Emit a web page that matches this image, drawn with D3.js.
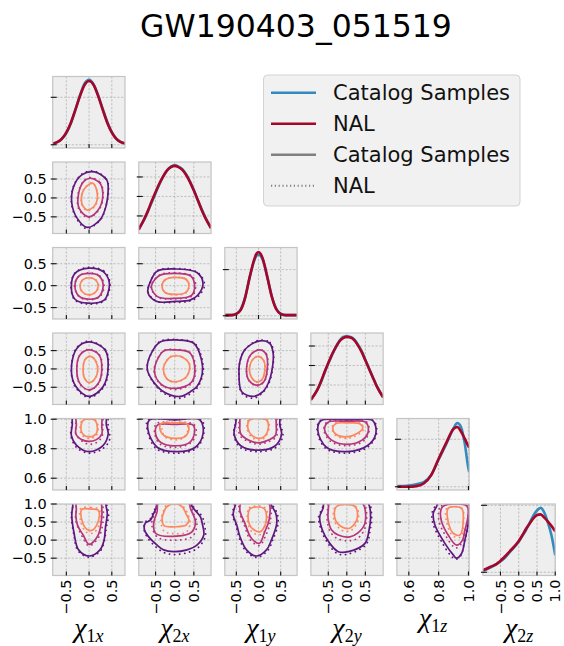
<!DOCTYPE html>
<html><head><meta charset="utf-8">
<script src="https://cdn.jsdelivr.net/npm/d3@7"></script>
<style>body{margin:0;background:#fff}</style>
</head><body>
<script>
// ---------------- DATA ----------------
const titleText = "GW190403_051519";
const paramSubs = ["1x","2x","1y","2y","1z","2z"];
const domains = [[-0.80,0.79],[-0.94,0.95],[-0.76,0.87],[-0.97,0.98],[0.52,1.005],[-0.98,1.0]];
const tickVals = [[-0.5,0,0.5],[-0.5,0,0.5],[-0.5,0,0.5],[-0.5,0,0.5],[0.6,0.8,1.0],[-0.5,0,0.5,1.0]];
const legendLabels = ["Catalog Samples","NAL","Catalog Samples","NAL"];

// 1D marginal densities (relative units)
const grid1x = [-0.8,-0.7,-0.6,-0.5,-0.4,-0.3,-0.2,-0.1,0,0.1,0.2,0.3,0.4,0.5,0.6,0.7,0.8];
const cat1x  = [0.02,0.04,0.09,0.18,0.33,0.54,0.76,0.94,1.0,0.93,0.76,0.55,0.35,0.19,0.09,0.04,0.02];
const nal1x  = [0.02,0.04,0.09,0.19,0.34,0.54,0.75,0.92,0.98,0.92,0.75,0.54,0.34,0.19,0.09,0.04,0.02];
const grid2x = [-0.94,-0.8,-0.7,-0.6,-0.5,-0.4,-0.3,-0.2,-0.1,0,0.1,0.2,0.3,0.4,0.5,0.6,0.7,0.8,0.95];
const cat2x  = [0.03,0.16,0.29,0.43,0.57,0.71,0.83,0.92,0.98,1.0,0.98,0.94,0.86,0.75,0.62,0.47,0.33,0.2,0.04];
const nal2x  = [0.01,0.17,0.30,0.45,0.59,0.72,0.83,0.92,0.97,0.99,0.97,0.93,0.85,0.74,0.61,0.47,0.32,0.19,0.03];
const grid1y = [-0.76,-0.6,-0.5,-0.4,-0.3,-0.2,-0.1,-0.05,0,0.05,0.1,0.2,0.3,0.4,0.5,0.6,0.87];
const cat1y  = [0.01,0.01,0.03,0.1,0.29,0.59,0.84,0.92,0.94,0.92,0.85,0.59,0.3,0.11,0.03,0.01,0.01];
const nal1y  = [0.01,0.01,0.03,0.09,0.28,0.59,0.86,0.95,0.98,0.95,0.87,0.59,0.29,0.1,0.03,0.01,0.01];
const grid2y = [-0.97,-0.8,-0.7,-0.6,-0.5,-0.4,-0.3,-0.2,-0.1,0,0.1,0.2,0.3,0.4,0.5,0.6,0.7,0.8,0.98];
const cat2y  = [0.03,0.17,0.29,0.44,0.58,0.71,0.83,0.93,0.99,1.0,0.99,0.95,0.87,0.77,0.64,0.5,0.37,0.24,0.06];
const nal2y  = [0.02,0.17,0.30,0.45,0.59,0.72,0.83,0.92,0.97,0.99,0.98,0.94,0.86,0.76,0.63,0.5,0.37,0.24,0.06];
const grid1z = [0.52,0.55,0.6,0.65,0.7,0.75,0.8,0.85,0.9,0.925,0.95,0.975,1.0,1.005];
const cat1z  = [0.01,0.01,0.02,0.04,0.07,0.18,0.42,0.65,0.9,0.98,0.92,0.67,0.28,0.23];
const nal1z  = [0.0,0.0,0.0,0.01,0.05,0.18,0.43,0.67,0.89,0.92,0.85,0.74,0.62,0.6];
const grid2z = [-0.98,-0.9,-0.75,-0.6,-0.4,-0.2,-0.1,0,0.1,0.2,0.3,0.4,0.5,0.6,0.7,0.8,0.9,1.0];
const cat2z  = [0.03,0.04,0.08,0.13,0.21,0.34,0.40,0.47,0.56,0.65,0.76,0.87,0.95,0.99,0.92,0.76,0.56,0.26];
const nal2z  = [0.03,0.05,0.09,0.13,0.23,0.35,0.41,0.48,0.57,0.67,0.75,0.83,0.88,0.89,0.84,0.78,0.71,0.63];
const diagTicks1x = [0,0.73], diagTicks2x = [0.22,0.52,0.82], diagTicks1y = [0,0.71];
const diagTicks2y = [0.25,0.55,0.85], diagTicks1z = [0,0.73], diagTicks2z = [0,1.03];

// 2D credible contours [x,y] in data units: [outer, middle, inner]
const cat_2x_1x = [
 [[0.12,0.69],[0.39,0.47],[0.42,0.21],[0.37,-0.23],[0.24,-0.58],[-0.04,-0.78],[-0.26,-0.54],[-0.38,-0.14],[-0.34,0.30],[-0.16,0.61]],
 [[0.02,0.52],[0.24,0.39],[0.30,0.03],[0.20,-0.32],[-0.01,-0.50],[-0.22,-0.27],[-0.23,0.12],[-0.12,0.43]],
 [[0.08,0.39],[0.18,0.12],[0.13,-0.19],[-0.04,-0.32],[-0.16,-0.14],[-0.12,0.21]]];
const nal_2x_1x = [
 [[0.10,0.71],[0.38,0.50],[0.43,0.22],[0.37,-0.22],[0.25,-0.58],[-0.06,-0.81],[-0.27,-0.56],[-0.39,-0.12],[-0.34,0.32],[-0.16,0.63]],
 [[0.02,0.54],[0.25,0.40],[0.31,0.03],[0.21,-0.33],[-0.02,-0.52],[-0.23,-0.28],[-0.24,0.12],[-0.12,0.45]],
 [[0.07,0.40],[0.19,0.12],[0.14,-0.20],[-0.04,-0.34],[-0.17,-0.14],[-0.12,0.22]]];
const cat_1y_1x = [
 [[0.0,0.40],[0.31,0.32],[0.44,0.10],[0.42,-0.15],[0.33,-0.33],[-0.02,-0.40],[-0.31,-0.31],[-0.39,-0.02],[-0.31,0.28]],
 [[0,0.28],[0.22,0.22],[0.31,0],[0.22,-0.25],[0,-0.31],[-0.22,-0.24],[-0.31,0],[-0.22,0.22]],
 [[0,0.18],[0.14,0.13],[0.20,0],[0.14,-0.15],[0,-0.21],[-0.14,-0.15],[-0.20,0],[-0.14,0.13]]];
const nal_1y_1x = [
 [[0.0,0.42],[0.33,0.33],[0.46,0.08],[0.43,-0.16],[0.33,-0.35],[-0.02,-0.42],[-0.31,-0.33],[-0.40,-0.02],[-0.31,0.29]],
 [[0,0.29],[0.24,0.22],[0.33,0],[0.24,-0.25],[0,-0.32],[-0.22,-0.25],[-0.32,0],[-0.22,0.22]],
 [[0,0.18],[0.15,0.13],[0.21,0],[0.14,-0.15],[0,-0.22],[-0.14,-0.15],[-0.20,0],[-0.14,0.13]]];
const cat_1y_2x = [
 [[-0.46,0.33],[0.0,0.38],[0.58,0.30],[0.74,0.05],[0.60,-0.22],[0.40,-0.33],[0.0,-0.36],[-0.46,-0.36],[-0.70,-0.16],[-0.62,0.12]],
 [[-0.40,0.23],[0.0,0.28],[0.42,0.22],[0.52,0.0],[0.44,-0.22],[0.0,-0.29],[-0.45,-0.25],[-0.61,-0.02]],
 [[0,0.19],[0.30,0.14],[0.37,0],[0.28,-0.16],[0,-0.20],[-0.26,-0.15],[-0.33,0],[-0.24,0.14]]];
const nal_1y_2x = [
 [[-0.46,0.34],[0.0,0.39],[0.60,0.30],[0.78,0.02],[0.62,-0.24],[0.40,-0.35],[0.0,-0.38],[-0.46,-0.36],[-0.70,-0.14],[-0.62,0.13]],
 [[-0.40,0.24],[0.0,0.29],[0.45,0.22],[0.55,0.0],[0.46,-0.23],[0.0,-0.30],[-0.45,-0.26],[-0.62,-0.02]],
 [[0,0.19],[0.30,0.15],[0.38,0],[0.29,-0.17],[0,-0.21],[-0.26,-0.15],[-0.34,0],[-0.24,0.14]]];
const cat_2y_1x = [
 [[0.0,0.74],[0.35,0.52],[0.42,0.11],[0.31,-0.48],[0.0,-0.75],[-0.29,-0.48],[-0.39,-0.03],[-0.27,0.56]],
 [[0,0.52],[0.22,0.38],[0.28,0],[0.2,-0.40],[0,-0.57],[-0.2,-0.40],[-0.27,0],[-0.2,0.38]],
 [[0.03,0.34],[0.15,0.2],[0.19,-0.05],[0.12,-0.28],[0,-0.37],[-0.1,-0.25],[-0.13,0],[-0.09,0.25]]];
const nal_2y_1x = [
 [[0.0,0.76],[0.36,0.52],[0.43,0.11],[0.33,-0.48],[0.0,-0.78],[-0.30,-0.50],[-0.39,-0.03],[-0.28,0.57]],
 [[0,0.54],[0.23,0.38],[0.29,0],[0.21,-0.40],[0,-0.58],[-0.21,-0.40],[-0.27,0],[-0.2,0.39]],
 [[0.03,0.35],[0.16,0.2],[0.19,-0.05],[0.12,-0.29],[0,-0.38],[-0.1,-0.25],[-0.13,0],[-0.09,0.25]]];
const cat_2y_2x = [
 [[-0.37,0.74],[0.06,0.79],[0.50,0.70],[0.70,0.25],[0.72,-0.12],[0.58,-0.48],[0.41,-0.62],[0.15,-0.75],[-0.29,-0.62],[-0.59,-0.30],[-0.72,0.02],[-0.59,0.47]],
 [[-0.3,0.48],[0,0.52],[0.38,0.45],[0.52,0.1],[0.45,-0.35],[0.05,-0.53],[-0.35,-0.42],[-0.53,-0.05]],
 [[-0.1,0.33],[0.2,0.32],[0.39,0.1],[0.3,-0.22],[0,-0.35],[-0.22,-0.25],[-0.29,0.05]]];
const nal_2y_2x = [
 [[-0.37,0.76],[0.06,0.80],[0.52,0.70],[0.72,0.25],[0.74,-0.12],[0.60,-0.50],[0.41,-0.68],[0.12,-0.80],[-0.29,-0.66],[-0.59,-0.32],[-0.72,0.02],[-0.59,0.47]],
 [[-0.3,0.49],[0,0.53],[0.40,0.45],[0.54,0.1],[0.46,-0.37],[0.05,-0.56],[-0.36,-0.43],[-0.54,-0.05]],
 [[-0.1,0.34],[0.2,0.33],[0.40,0.1],[0.3,-0.23],[0,-0.36],[-0.22,-0.25],[-0.29,0.05]]];
const cat_2y_1y = [
 [[0.0,0.76],[0.25,0.70],[0.33,0.43],[0.29,-0.12],[0.22,-0.39],[0.10,-0.62],[-0.12,-0.75],[-0.38,-0.62],[-0.44,-0.12],[-0.42,0.2],[-0.31,0.52]],
 [[0.03,0.52],[0.17,0.40],[0.2,0.05],[0.12,-0.35],[-0.05,-0.44],[-0.22,-0.30],[-0.27,0],[-0.18,0.38]],
 [[0,0.34],[0.12,0.22],[0.14,-0.05],[0.07,-0.3],[-0.05,-0.35],[-0.17,-0.2],[-0.2,0.05],[-0.12,0.27]]];
const nal_2y_1y = [
 [[0.0,0.78],[0.26,0.72],[0.34,0.43],[0.30,-0.12],[0.23,-0.40],[0.10,-0.64],[-0.12,-0.80],[-0.38,-0.66],[-0.44,-0.12],[-0.42,0.2],[-0.31,0.52]],
 [[0.03,0.53],[0.18,0.40],[0.21,0.05],[0.12,-0.36],[-0.05,-0.46],[-0.22,-0.31],[-0.27,0],[-0.18,0.38]],
 [[0,0.35],[0.12,0.22],[0.15,-0.05],[0.07,-0.31],[-0.05,-0.36],[-0.17,-0.2],[-0.2,0.05],[-0.12,0.27]]];
const cat_1z_1x = [
 [[-0.34,1.03],[0.35,1.03],[0.38,0.96],[0.42,0.90],[0.30,0.82],[0.0,0.78],[-0.28,0.825],[-0.39,0.89],[-0.37,0.96]],
 [[-0.27,1.03],[0.25,1.03],[0.28,0.95],[0.28,0.90],[0.15,0.86],[0.0,0.85],[-0.15,0.86],[-0.29,0.90],[-0.28,0.96]],
 [[-0.12,0.995],[0.12,0.995],[0.18,0.95],[0.15,0.90],[0.0,0.88],[-0.14,0.90],[-0.18,0.94]]];
const nal_1z_1x = [
 [[-0.36,1.03],[0.38,1.03],[0.42,0.95],[0.45,0.86],[0.30,0.80],[0.0,0.77],[-0.28,0.81],[-0.40,0.89],[-0.38,0.96]],
 [[-0.28,1.03],[0.27,1.03],[0.30,0.95],[0.28,0.88],[0.15,0.84],[0.0,0.83],[-0.15,0.85],[-0.29,0.90],[-0.29,0.96]],
 [[-0.14,0.995],[0.14,0.995],[0.20,0.95],[0.16,0.89],[0.0,0.87],[-0.15,0.89],[-0.20,0.94]]];
const cat_1z_2x = [
 [[-0.66,0.995],[0.0,0.996],[0.66,0.995],[0.74,0.90],[0.54,0.81],[0.06,0.78],[-0.46,0.81],[-0.70,0.93]],
 [[-0.45,0.96],[0.0,0.965],[0.48,0.96],[0.52,0.915],[0.40,0.845],[0.05,0.82],[-0.35,0.84],[-0.50,0.90]],
 [[-0.36,0.97],[0.0,0.975],[0.32,0.97],[0.37,0.93],[0.25,0.88],[0.0,0.87],[-0.28,0.89],[-0.39,0.94]]];
const nal_1z_2x = [
 [[-0.70,0.995],[0.0,0.996],[0.70,0.995],[0.76,0.90],[0.55,0.80],[0.06,0.77],[-0.48,0.80],[-0.72,0.93]],
 [[-0.48,0.97],[0,0.975],[0.50,0.965],[0.56,0.90],[0.42,0.84],[0.05,0.81],[-0.38,0.83],[-0.52,0.90]],
 [[-0.30,0.975],[0,0.98],[0.30,0.975],[0.34,0.92],[0.20,0.87],[0,0.86],[-0.25,0.88],[-0.33,0.93]]];
const cat_1z_1y = [
 [[-0.45,1.03],[0.45,1.03],[0.48,0.96],[0.52,0.90],[0.38,0.82],[0.0,0.79],[-0.40,0.82],[-0.55,0.90],[-0.52,0.96]],
 [[-0.38,1.03],[0.35,1.03],[0.40,0.95],[0.38,0.89],[0.15,0.85],[0.0,0.84],[-0.2,0.855],[-0.40,0.9],[-0.42,0.96]],
 [[-0.2,0.995],[0.18,0.995],[0.22,0.94],[0.12,0.88],[0.0,0.87],[-0.15,0.89],[-0.24,0.94]]];
const nal_1z_1y = [
 [[-0.47,1.03],[0.47,1.03],[0.50,0.96],[0.55,0.89],[0.40,0.81],[0.0,0.78],[-0.42,0.81],[-0.56,0.90],[-0.53,0.96]],
 [[-0.40,1.03],[0.37,1.03],[0.42,0.95],[0.40,0.88],[0.15,0.84],[0,0.83],[-0.2,0.845],[-0.42,0.89],[-0.44,0.96]],
 [[-0.22,0.995],[0.2,0.995],[0.24,0.94],[0.12,0.87],[0,0.86],[-0.16,0.88],[-0.26,0.94]]];
const cat_1z_2y = [
 [[-0.70,0.99],[0.0,0.995],[0.70,0.99],[0.78,0.90],[0.55,0.82],[0.0,0.78],[-0.55,0.81],[-0.78,0.92]],
 [[-0.50,0.98],[0.0,0.985],[0.50,0.98],[0.58,0.92],[0.42,0.86],[0.0,0.83],[-0.42,0.86],[-0.60,0.93]],
 [[-0.30,0.97],[0.05,0.975],[0.35,0.97],[0.43,0.94],[0.25,0.90],[0.0,0.88],[-0.3,0.9],[-0.38,0.94]]];
const nal_1z_2y = [
 [[-0.72,0.99],[0,0.995],[0.72,0.99],[0.80,0.90],[0.56,0.81],[0.0,0.77],[-0.56,0.80],[-0.80,0.92]],
 [[-0.52,0.985],[0,0.99],[0.52,0.985],[0.60,0.92],[0.44,0.85],[0,0.82],[-0.44,0.85],[-0.62,0.93]],
 [[-0.32,0.975],[0.05,0.98],[0.37,0.975],[0.45,0.93],[0.26,0.89],[0,0.87],[-0.3,0.89],[-0.40,0.94]]];
const cat_2z_1x = [
 [[-0.36,0.92],[-0.34,1.05],[0.34,1.05],[0.38,0.9],[0.40,0.74],[0.36,0.35],[0.33,0.0],[0.24,-0.27],[0.0,-0.44],[-0.23,-0.27],[-0.33,0.19],[-0.38,0.70]],
 [[-0.28,0.85],[-0.27,1.05],[0.25,1.05],[0.28,0.85],[0.28,0.65],[0.20,0.14],[0.0,-0.12],[-0.13,0.14],[-0.25,0.4],[-0.29,0.65]],
 [[-0.16,0.85],[0.05,0.86],[0.2,0.83],[0.21,0.56],[0.08,0.28],[-0.05,0.30],[-0.16,0.56]]];
const nal_2z_1x = [
 [[-0.36,0.92],[-0.34,1.05],[0.36,1.05],[0.40,0.9],[0.43,0.70],[0.38,0.35],[0.34,0.0],[0.25,-0.30],[0.0,-0.47],[-0.24,-0.30],[-0.34,0.19],[-0.39,0.70]],
 [[-0.28,0.85],[-0.27,1.05],[0.27,1.05],[0.31,0.85],[0.31,0.55],[0.22,0.10],[0.0,-0.16],[-0.15,0.10],[-0.26,0.4],[-0.30,0.65]],
 [[-0.18,0.88],[0.05,0.90],[0.22,0.85],[0.24,0.50],[0.10,0.20],[-0.06,0.22],[-0.18,0.50]]];
const cat_2z_2x = [
 [[-0.46,0.94],[-0.44,1.05],[0.44,1.05],[0.45,0.94],[0.67,0.65],[0.72,0.46],[0.76,0.14],[0.58,-0.14],[0.32,-0.27],[-0.03,-0.32],[-0.29,-0.27],[-0.46,-0.14],[-0.68,0.09],[-0.79,0.28],[-0.77,0.47],[-0.63,0.56],[-0.55,0.74]],
 [[-0.46,0.79],[-0.42,1.05],[0.35,1.05],[0.42,0.85],[0.54,0.51],[0.45,0.23],[0.05,0.11],[-0.50,0.19],[-0.55,0.47]],
 [[-0.20,0.93],[0.0,1.0],[0.19,0.93],[0.30,0.72],[0.37,0.56],[0.30,0.42],[0.0,0.37],[-0.28,0.40],[-0.33,0.60],[-0.28,0.78]]];
const nal_2z_2x = [
 [[-0.48,0.94],[-0.46,1.05],[0.46,1.05],[0.48,0.94],[0.72,0.65],[0.78,0.40],[0.80,0.10],[0.60,-0.22],[0.32,-0.35],[-0.03,-0.40],[-0.29,-0.34],[-0.50,-0.18],[-0.70,0.05],[-0.80,0.28],[-0.77,0.50],[-0.63,0.60],[-0.57,0.76]],
 [[-0.50,0.80],[-0.45,1.05],[0.38,1.05],[0.46,0.82],[0.58,0.45],[0.46,0.10],[0.05,0.0],[-0.45,0.08],[-0.60,0.45]],
 [[-0.25,0.93],[0.0,1.02],[0.22,0.93],[0.35,0.70],[0.40,0.45],[0.30,0.22],[0.0,0.18],[-0.28,0.25],[-0.36,0.55],[-0.30,0.78]]];
const cat_2z_1y = [
 [[-0.53,0.94],[-0.5,1.05],[0.25,1.05],[0.3,0.94],[0.39,0.74],[0.41,0.45],[0.29,0.0],[0.18,-0.27],[-0.05,-0.44],[-0.27,-0.27],[-0.42,0.1],[-0.49,0.42],[-0.57,0.70]],
 [[-0.42,0.83],[-0.38,1.05],[0.22,1.05],[0.24,0.56],[0.14,0.23],[0.02,-0.09],[-0.16,0.05],[-0.31,0.47]],
 [[-0.23,0.74],[-0.18,0.88],[0.12,0.88],[0.18,0.60],[0.10,0.30],[0.03,0.23],[-0.12,0.30],[-0.20,0.42]]];
const nal_2z_1y = [
 [[-0.55,0.94],[-0.52,1.05],[0.27,1.05],[0.33,0.94],[0.42,0.74],[0.44,0.45],[0.32,0.0],[0.20,-0.30],[-0.05,-0.48],[-0.29,-0.30],[-0.44,0.08],[-0.51,0.42],[-0.59,0.70]],
 [[-0.44,0.83],[-0.40,1.05],[0.24,1.05],[0.27,0.55],[0.17,0.15],[0.02,-0.15],[-0.18,0.0],[-0.33,0.45]],
 [[-0.25,0.74],[-0.20,0.90],[0.14,0.90],[0.21,0.58],[0.12,0.22],[0.02,0.15],[-0.14,0.22],[-0.23,0.42]]];
const cat_2z_2y = [
 [[-0.64,0.88],[-0.6,1.05],[0.55,1.05],[0.64,0.65],[0.60,0.28],[0.49,-0.09],[0.04,-0.32],[-0.23,-0.32],[-0.46,-0.09],[-0.66,0.28],[-0.73,0.65]],
 [[-0.50,0.83],[-0.45,1.05],[0.40,1.05],[0.49,0.47],[0.30,0.20],[0.08,0.09],[-0.23,0.14],[-0.41,0.28],[-0.50,0.56]],
 [[-0.28,0.93],[0.22,0.93],[0.28,0.60],[0.08,0.33],[-0.14,0.37],[-0.32,0.60]]];
const nal_2z_2y = [
 [[-0.66,0.88],[-0.62,1.05],[0.57,1.05],[0.67,0.65],[0.63,0.28],[0.52,-0.12],[0.06,-0.38],[-0.24,-0.38],[-0.49,-0.12],[-0.69,0.28],[-0.76,0.65]],
 [[-0.52,0.83],[-0.47,1.05],[0.43,1.05],[0.52,0.45],[0.33,0.08],[0.08,-0.02],[-0.25,0.04],[-0.44,0.22],[-0.53,0.55]],
 [[-0.30,0.93],[0.24,0.93],[0.31,0.58],[0.10,0.26],[-0.15,0.28],[-0.35,0.58]]];
const cat_2z_1z = [
 [[0.786,0.93],[0.80,1.05],[0.998,1.05],[0.998,0.47],[0.976,0.0],[0.954,-0.37],[0.92,-0.50],[0.898,-0.41],[0.842,-0.09],[0.775,0.42],[0.764,0.74]],
 [[0.813,0.79],[0.83,0.94],[0.99,0.94],[0.995,0.6],[0.976,0.28],[0.96,0.0],[0.92,-0.14],[0.864,0.14],[0.82,0.51]],
 [[0.864,0.88],[0.954,0.88],[0.965,0.56],[0.943,0.14],[0.898,0.19],[0.864,0.51]]];
const nal_2z_1z = [
 [[0.775,0.93],[0.79,1.05],[0.998,1.05],[0.998,0.40],[0.972,-0.05],[0.950,-0.42],[0.915,-0.53],[0.88,-0.42],[0.83,-0.12],[0.765,0.42],[0.755,0.74]],
 [[0.80,0.79],[0.82,0.95],[0.99,0.95],[0.995,0.55],[0.975,0.22],[0.955,-0.08],[0.915,-0.22],[0.85,0.10],[0.805,0.48]],
 [[0.855,0.88],[0.955,0.88],[0.968,0.50],[0.945,0.08],[0.895,0.12],[0.855,0.48]]];

// ---------------- TABLES BUILT FROM DATA ----------------
const diagGrid = [grid1x,grid2x,grid1y,grid2y,grid1z,grid2z];
const diagCat = [cat1x,cat2x,cat1y,cat2y,cat1z,cat2z];
const diagNal = [nal1x,nal2x,nal1y,nal2y,nal1z,nal2z];
const diagTicks = [diagTicks1x,diagTicks2x,diagTicks1y,diagTicks2y,diagTicks1z,diagTicks2z];
const contourTable = {
  "1-0":[cat_2x_1x,nal_2x_1x],
  "2-0":[cat_1y_1x,nal_1y_1x],"2-1":[cat_1y_2x,nal_1y_2x],
  "3-0":[cat_2y_1x,nal_2y_1x],"3-1":[cat_2y_2x,nal_2y_2x],"3-2":[cat_2y_1y,nal_2y_1y],
  "4-0":[cat_1z_1x,nal_1z_1x],"4-1":[cat_1z_2x,nal_1z_2x],"4-2":[cat_1z_1y,nal_1z_1y],"4-3":[cat_1z_2y,nal_1z_2y],
  "5-0":[cat_2z_1x,nal_2z_1x],"5-1":[cat_2z_2x,nal_2z_2x],"5-2":[cat_2z_1y,nal_2z_1y],"5-3":[cat_2z_2y,nal_2z_2y],"5-4":[cat_2z_1z,nal_2z_1z]
};

// ---------------- DRAWING ----------------
const W = 564, H = 646;
const svg = d3.select("body").append("svg").attr("width", W).attr("height", H)
  .style("font-family", "'DejaVu Sans', sans-serif");
const left0 = 52.7, colStep = 86.05, pw = 72.3, top0 = 76.5, rowStep = 85.5, ph = 71.5;
const N = 6;
const blue = "#348ABD", red = "#A60628";
const levelColors = ["#5f187f", "#b5367a", "#fb8861"];
const fmt = d3.format(".1f");

const xs = d3.range(N).map(j => d3.scaleLinear().domain(domains[j]).range([left0 + j*colStep, left0 + j*colStep + pw]));
const ys = d3.range(N).map(i => d3.scaleLinear().domain(domains[i]).range([top0 + i*rowStep + ph, top0 + i*rowStep]));

svg.append("text").attr("x", 296).attr("y", 37).attr("text-anchor", "middle")
  .attr("font-size", 31.5).attr("fill", "#000").text(titleText);

for (let i = 0; i < N; i++) {
  for (let j = 0; j <= i; j++) {
    const px = left0 + j*colStep, py = top0 + i*rowStep;
    const xS = xs[j];
    const diag = i === j;
    const yS = diag ? d3.scaleLinear().domain([-0.05, 1.05]).range([py + ph, py]) : ys[i];
    const yTicks = diag ? diagTicks[i] : tickVals[i];
    const xTicks = tickVals[j];
    const g = svg.append("g");
    const cid = `clip-${i}-${j}`;
    g.append("clipPath").attr("id", cid).append("rect")
      .attr("x", px).attr("y", py).attr("width", pw).attr("height", ph);
    g.append("rect").attr("x", px).attr("y", py).attr("width", pw).attr("height", ph).attr("fill", "#eeeeee");
    // grid
    const gg = g.append("g").attr("clip-path", `url(#${cid})`)
      .attr("stroke", "#b2b2b2").attr("stroke-width", 0.8).attr("stroke-dasharray", "2.2,1.6");
    xTicks.forEach(t => gg.append("line").attr("x1", xS(t)).attr("x2", xS(t)).attr("y1", py).attr("y2", py + ph));
    yTicks.forEach(t => gg.append("line").attr("y1", yS(t)).attr("y2", yS(t)).attr("x1", px).attr("x2", px + pw));
    const cg = g.append("g").attr("clip-path", `url(#${cid})`);
    if (diag) {
      const line = d3.line().x((d, k) => xS(diagGrid[i][k])).y(d => yS(d)).curve(d3.curveMonotoneX);
      cg.append("path").attr("d", line(diagCat[i])).attr("fill", "none").attr("stroke", blue).attr("stroke-width", 2.6);
      cg.append("path").attr("d", line(diagNal[i])).attr("fill", "none").attr("stroke", red).attr("stroke-width", 2.6);
    } else {
      const [catC, nalC] = contourTable[`${i}-${j}`];
      const cl = d3.line().x(d => xS(d[0])).y(d => yS(d[1])).curve(d3.curveCatmullRomClosed.alpha(0.5));
      nalC.forEach((c, k) => cg.append("path").attr("d", cl(c)).attr("fill", "none")
        .attr("stroke", levelColors[k]).attr("stroke-width", 1.8).attr("stroke-linecap", "round")
        .attr("stroke-dasharray", "0.1,5"));
      catC.forEach((c, k) => cg.append("path").attr("d", cl(c)).attr("fill", "none")
        .attr("stroke", levelColors[k]).attr("stroke-width", 1.7));
    }
    // frame
    g.append("rect").attr("x", px).attr("y", py).attr("width", pw).attr("height", ph)
      .attr("fill", "none").attr("stroke", "#c4c4c4").attr("stroke-width", 1.2);
    // tick marks
    const tg = g.append("g").attr("stroke", "#111").attr("stroke-width", 1.1);
    xTicks.forEach(t => { const x = xS(t); if (x <= px + pw + 0.5) tg.append("line").attr("x1", x).attr("x2", x).attr("y1", py + ph).attr("y2", py + ph - 4); });
    yTicks.forEach(t => { const y = yS(t); if (y >= py - 0.5) tg.append("line").attr("x1", px - 2).attr("x2", px + 4).attr("y1", y).attr("y2", y); });
    // labels
    if (j === 0 && i > 0) {
      tickVals[i].forEach(t => svg.append("text").attr("x", px - 6).attr("y", ys[i](t)).attr("dy", "0.35em")
        .attr("text-anchor", "end").attr("font-size", 14.5).text(fmt(t)));
    }
    if (i === N - 1) {
      tickVals[j].forEach(t => {
        const x = xS(t);
        svg.append("text").attr("transform", `translate(${x},${py + ph + 4}) rotate(-90)`)
          .attr("dy", "0.35em").attr("text-anchor", "end").attr("font-size", 14.5).text(fmt(t));
      });
    }
  }
}

// axis labels
paramSubs.forEach((s, j) => {
  const cx = left0 + j*colStep + pw/2;
  const base = j === 4 ? 627 : 637;
  const t = svg.append("text").attr("x", cx).attr("y", base).attr("text-anchor", "middle")
    .attr("font-family", "'Liberation Serif', serif").attr("font-style", "italic").attr("font-size", 28);
  t.append("tspan").text("χ");
  t.append("tspan").attr("font-size", 18).attr("dy", 5).attr("font-style", "normal").text(s[0]);
  t.append("tspan").attr("font-size", 18).text(s[1]);
});

// legend
const lg = svg.append("g");
lg.append("rect").attr("x", 263.5).attr("y", 75).attr("width", 256.5).attr("height", 131).attr("rx", 4)
  .attr("fill", "#f1f1f1").attr("stroke", "#d3d3d3").attr("stroke-width", 1);
const legStyles = [
  {c: blue, dash: null}, {c: red, dash: null}, {c: "#808080", dash: null}, {c: "#808080", dash: "1.2,2.6"}
];
legendLabels.forEach((lab, k) => {
  const y = 92.7 + k*31;
  const l = lg.append("line").attr("x1", 271).attr("x2", 316).attr("y1", y).attr("y2", y)
    .attr("stroke", legStyles[k].c).attr("stroke-width", 2.4);
  if (legStyles[k].dash) l.attr("stroke-dasharray", legStyles[k].dash).attr("stroke-width", 2);
  lg.append("text").attr("x", 333).attr("y", y).attr("dy", "0.36em").attr("font-size", 21).attr("fill", "#111").text(lab);
});
</script>
</body></html>
